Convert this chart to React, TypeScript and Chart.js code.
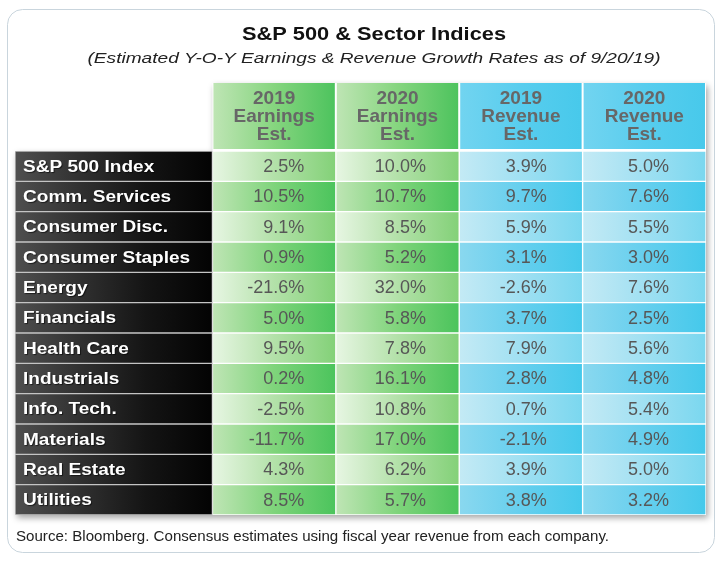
import React, { useEffect, useRef } from "react";
import { Chart, registerables } from "chart.js";

Chart.register(...registerables);

const titleText = "S&P 500 & Sector Indices";
const subtitleText = "(Estimated Y-O-Y Earnings & Revenue Growth Rates as of 9/20/19)";
const sourceText = "Source: Bloomberg. Consensus estimates using fiscal year revenue from each company.";

const rowLabels = [
  "S&P 500 Index",
  "Comm. Services",
  "Consumer Disc.",
  "Consumer Staples",
  "Energy",
  "Financials",
  "Health Care",
  "Industrials",
  "Info. Tech.",
  "Materials",
  "Real Estate",
  "Utilities",
];

const columnHeaders = [
  ["2019", "Earnings", "Est."],
  ["2020", "Earnings", "Est."],
  ["2019", "Revenue", "Est."],
  ["2020", "Revenue", "Est."],
];

const earnings2019 = [2.5, 10.5, 9.1, 0.9, -21.6, 5.0, 9.5, 0.2, -2.5, -11.7, 4.3, 8.5];
const earnings2020 = [10.0, 10.7, 8.5, 5.2, 32.0, 5.8, 7.8, 16.1, 10.8, 17.0, 6.2, 5.7];
const revenue2019 = [3.9, 9.7, 5.9, 3.1, -2.6, 3.7, 7.9, 2.8, 0.7, -2.1, 3.9, 3.8];
const revenue2020 = [5.0, 7.6, 5.5, 3.0, 7.6, 2.5, 5.6, 4.8, 5.4, 4.9, 5.0, 3.2];

const columns = [earnings2019, earnings2020, revenue2019, revenue2020];

const LABEL_COL_START = -1.6;
const HEADER_TOP = 83;
const HEADER_BOTTOM = 149;
const VALUE_RIGHT = [0.745, 0.73, 0.71, 0.7];

const palette = {
  greenLight: ["#e7f6e3", "#b3e1a9", "#83d178"],
  greenDark: ["#bfe5b5", "#7fd47b", "#4bc45c"],
  blueLight: ["#c4eaf5", "#a0e0f2", "#7ad7ef"],
  blueDark: ["#8ad8ef", "#66cfee", "#45c9eb"],
  headerGreen: ["#bfe5b5", "#86d57f", "#4cc35d"],
  headerBlue: ["#72d4f0", "#58cdee", "#47c9eb"],
  label: ["#4f4f4f", "#303030", "#141414", "#030303"],
};

function makeGradient(ctx: CanvasRenderingContext2D, x0: number, x1: number, stops: string[]) {
  const g = ctx.createLinearGradient(x0, 0, x1, 0);
  stops.forEach((s, i) => g.addColorStop(i / (stops.length - 1), s));
  return g;
}

function stretchText(
  ctx: CanvasRenderingContext2D,
  text: string,
  x: number,
  y: number,
  font: string,
  color: string,
  align: CanvasTextAlign,
  sx: number
) {
  ctx.save();
  ctx.font = font;
  ctx.fillStyle = color;
  ctx.textAlign = align;
  ctx.textBaseline = "middle";
  ctx.translate(x, y);
  ctx.scale(sx, 1);
  ctx.fillText(text, 0, 0);
  ctx.restore();
}

function fitText(
  ctx: CanvasRenderingContext2D,
  text: string,
  x: number,
  y: number,
  font: string,
  color: string,
  align: CanvasTextAlign,
  width: number
) {
  ctx.save();
  ctx.font = font;
  const w = ctx.measureText(text).width;
  ctx.restore();
  stretchText(ctx, text, x, y, font, color, align, width / w);
}

const tablePlugin = {
  id: "tableDecor",
  beforeDraw(chart: any) {
    const ctx: CanvasRenderingContext2D = chart.ctx;
    ctx.save();
    ctx.fillStyle = "#ffffff";
    ctx.fillRect(0, 0, chart.width, chart.height);
    ctx.beginPath();
    ctx.roundRect(7.5, 9.5, 707, 543, 15);
    ctx.strokeStyle = "#c9d5dd";
    ctx.lineWidth = 1;
    ctx.stroke();
    ctx.restore();

    fitText(ctx, titleText, 374, 35, "bold 18px 'Liberation Sans', Arial, sans-serif", "#111111", "center", 264);
    fitText(ctx, subtitleText, 374, 59, "italic 15px 'Liberation Sans', Arial, sans-serif", "#222222", "center", 573);
    fitText(ctx, sourceText, 16, 537, "14px 'Liberation Sans', Arial, sans-serif", "#222222", "left", 593);
  },
  beforeDatasetsDraw(chart: any) {
    const ctx: CanvasRenderingContext2D = chart.ctx;
    const x = chart.scales.x;
    const area = chart.chartArea;
    const left = x.getPixelForValue(LABEL_COL_START);
    const colLeft = x.getPixelForValue(0);
    const right = x.getPixelForValue(4);

    ctx.save();
    ctx.shadowColor = "rgba(0,0,0,0.35)";
    ctx.shadowBlur = 6;
    ctx.shadowOffsetX = 2;
    ctx.shadowOffsetY = 3;
    ctx.fillStyle = "#ffffff";
    ctx.beginPath();
    ctx.moveTo(colLeft, HEADER_TOP);
    ctx.lineTo(right, HEADER_TOP);
    ctx.lineTo(right, area.bottom);
    ctx.lineTo(left, area.bottom);
    ctx.lineTo(left, area.top);
    ctx.lineTo(colLeft, area.top);
    ctx.closePath();
    ctx.fill();
    ctx.restore();

    for (let c = 0; c < 4; c++) {
      const l = x.getPixelForValue(c);
      const r = x.getPixelForValue(c + 1);
      const stops = c < 2 ? palette.headerGreen : palette.headerBlue;
      ctx.fillStyle = makeGradient(ctx, l, r, stops);
      ctx.fillRect(l + 1, HEADER_TOP, r - l - 2, HEADER_BOTTOM - HEADER_TOP);
      const cx = x.getPixelForValue(c + 0.5);
      const lines = columnHeaders[c];
      const ys = [99, 117, 135];
      lines.forEach((t, i) => {
        stretchText(ctx, t, cx, ys[i], "bold 19px 'Liberation Sans', Arial, sans-serif", "#676767", "center", 1);
      });
    }
  },
  afterDatasetsDraw(chart: any) {
    const ctx: CanvasRenderingContext2D = chart.ctx;
    const x = chart.scales.x;
    const y = chart.scales.y;
    rowLabels.forEach((label, i) => {
      const cy = y.getPixelForValue(i) + 1;
      ctx.save();
      ctx.shadowColor = "rgba(0,0,0,0.6)";
      ctx.shadowBlur = 1;
      ctx.shadowOffsetX = 1;
      ctx.shadowOffsetY = 1;
      stretchText(ctx, label, x.getPixelForValue(LABEL_COL_START) + 8, cy, "bold 16px 'Liberation Sans', Arial, sans-serif", "#ffffff", "left", 1.19);
      ctx.restore();
      columns.forEach((col, c) => {
        const v = col[i];
        const txt = v.toFixed(1) + "%";
        stretchText(ctx, txt, x.getPixelForValue(c + VALUE_RIGHT[c]), cy, "18px 'Liberation Sans', Arial, sans-serif", "#575757", "right", 1);
      });
    });
  },
};

function cellColor(c: number) {
  return (context: any) => {
    const chart = context.chart;
    const x = chart.scales && chart.scales.x;
    const light = context.dataIndex % 2 === 0;
    let stops: string[];
    if (c < 0) stops = palette.label;
    else if (c < 2) stops = light ? palette.greenLight : palette.greenDark;
    else stops = light ? palette.blueLight : palette.blueDark;
    if (!x) return stops[1];
    const from = c < 0 ? LABEL_COL_START : c;
    const to = c < 0 ? 0 : c + 1;
    const p0 = x.getPixelForValue(from);
    const p1 = x.getPixelForValue(to);
    if (!isFinite(p0) || !isFinite(p1)) return stops[1];
    return makeGradient(chart.ctx, p0, p1, stops);
  };
}

export default function App() {
  const canvasRef = useRef<HTMLCanvasElement | null>(null);

  useEffect(() => {
    const canvas = canvasRef.current;
    if (!canvas) return;
    const datasets: any[] = [
      {
        label: "Sector",
        data: rowLabels.map(() => [LABEL_COL_START, 0]),
        backgroundColor: cellColor(-1),
        borderColor: "#c4c4c4",
        borderWidth: 1,
        borderSkipped: false,
      },
      ...columns.map((col, c) => ({
        label: columnHeaders[c].join(" "),
        data: col.map(() => [c, c + 1]),
        backgroundColor: cellColor(c),
        borderColor: "rgba(255,255,255,0.95)",
        borderWidth: 1,
        borderSkipped: false,
      })),
    ];
    const chart = new Chart(canvas, {
      type: "bar",
      data: { labels: rowLabels, datasets },
      options: {
        indexAxis: "y",
        animation: false,
        responsive: false,
        devicePixelRatio: 1,
        events: [],
        grouped: false,
        barPercentage: 1,
        categoryPercentage: 1,
        layout: { padding: { left: 15, right: 17, top: 151, bottom: 46 } },
        scales: {
          x: { type: "linear", min: LABEL_COL_START, max: 4, display: false },
          y: { type: "category", display: false, offset: true },
        },
        plugins: {
          legend: { display: false },
          tooltip: { enabled: false },
          title: { display: false },
        },
      } as any,
      plugins: [tablePlugin],
    });
    return () => chart.destroy();
  }, []);

  return (
    <div style={{ position: "fixed", left: 0, top: 0, width: 723, height: 561, background: "#fff" }}>
      <canvas ref={canvasRef} width={723} height={561} style={{ display: "block" }} />
    </div>
  );
}
